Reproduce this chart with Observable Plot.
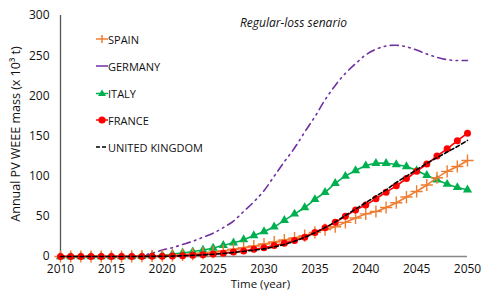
<!DOCTYPE html>
<html><head><meta charset="utf-8">
<script src="https://cdn.jsdelivr.net/npm/d3@7"></script>
<script src="https://cdn.jsdelivr.net/npm/@observablehq/plot@0.6"></script>
<style>
body{margin:0;background:#fff;font-family:"Open Sans",sans-serif;color:#111;}
#wrap{position:relative;width:481px;height:290px;overflow:hidden;}
.ov{position:absolute;white-space:nowrap;font-size:12px;line-height:1;color:#111;}
.leg{position:absolute;left:96px;display:flex;align-items:center;font-size:11px;height:14px;color:#111;}
.leg svg{display:block;}
</style></head><body><div id="wrap"></div>
<script>
const years = [2010,2011,2012,2013,2014,2015,2016,2017,2018,2019,2020,2021,2022,2023,2024,2025,2026,2027,2028,2029,2030,2031,2032,2033,2034,2035,2036,2037,2038,2039,2040,2041,2042,2043,2044,2045,2046,2047,2048,2049,2050];
const spain   = [0,0,0,0,0,0,0,0.2,0.4,0.7, 1,1.5,2,3,4,5.5,7,9,11,13, 15.5,18,20.5,23,26,30,33.5,37,42.5,48, 53,56,61,67,74,81,89,98,106,112,119.5];
const germany = [0,0,0,0,0,0,0,0.5,1.5,4, 8,11,15,19,24,29,36,44,56,68, 82,100,118,135,155,174,195,213,228,240, 251,258,262,263,261,257,252,248,245,244,244];
const italy   = [0,0,0,0,0,0,0,0,0.3,0.8, 1.5,3,4.5,6,8,10.5,14,17,21,26, 31,37,45,53,61,71,80,91,100,107, 113,116,116,114.5,112,107,101,95.5,90,86,83];
const france  = [0,0,0,0,0,0,0,0,0.1,0.2, 0.3,0.6,1,1.5,2.2,3,4,5.5,7,9, 11,13.7,16.6,20,24,30,35.7,42.7,50,58, 64,72,80,88,97,106,115,125,134,144,153.5];
const uk      = [0,0,0,0,0,0,0,0,0.1,0.2, 0.3,0.5,0.9,1.4,2,2.8,3.8,5,6.5,8, 9.5,12,15,19,24,29.5,36,43,51,59, 67,75,83,92,100,108,116,123,130,137,144.5];
const xTicks = [2010,2015,2020,2025,2030,2035,2040,2045,2050];
const yTicks = [0,50,100,150,200,250,300];
const seriesNames = ["SPAIN","GERMANY","ITALY","FRANCE","UNITED KINGDOM"];
const titleText = "Regular-loss senario";
const xLabel = "Time (year)";
const yLabel = "Annual PV WEEE mass (x 10³ t)";

const C = {SPAIN:"#ED7D31", GERMANY:"#7030A0", ITALY:"#00B050", FRANCE:"#FF0000", "UNITED KINGDOM":"#000000"};
const tbl = arr => years.map((y,i)=>({year:y, v:arr[i]}));
const dS=tbl(spain), dG=tbl(germany), dI=tbl(italy), dF=tbl(france), dU=tbl(uk);

const plot = Plot.plot({
  width:481, height:290,
  marginLeft:60, marginRight:14, marginTop:15, marginBottom:34,
  style:{fontFamily:"Open Sans", fontSize:"12px", color:"#111", background:"transparent"},
  x:{domain:[2010,2050], ticks:xTicks, tickFormat:d=>String(d), tickSize:0, tickPadding:8, label:null},
  y:{domain:[0,300], ticks:yTicks, tickSize:0, tickPadding:11, label:null},
  marks:[
    Plot.ruleY([0], {stroke:"#888", strokeWidth:1.5}),
    Plot.ruleX([2010], {stroke:"#555", strokeWidth:1.3}),
    Plot.lineY(dG, {x:"year", y:"v", stroke:C.GERMANY, strokeWidth:1.6, curve:"catmull-rom", strokeDasharray:"8,4.5,1.6,4.5,1.6,4.5"}),
    Plot.lineY(dI, {x:"year", y:"v", stroke:C.ITALY, strokeWidth:1.6, curve:"catmull-rom"}),
    Plot.dot(dI, {x:"year", y:"v", symbol:"triangle", fill:C.ITALY, r:3.4}),
    Plot.lineY(dS, {x:"year", y:"v", stroke:C.SPAIN, strokeWidth:1.6, curve:"catmull-rom"}),
    Plot.dot(dS, {x:"year", y:"v", symbol:"plus", stroke:C.SPAIN, strokeWidth:1.4, r:4}),
    Plot.lineY(dF, {x:"year", y:"v", stroke:C.FRANCE, strokeWidth:1.6, curve:"catmull-rom"}),
    Plot.dot(dF, {x:"year", y:"v", symbol:"circle", fill:C.FRANCE, r:3.5}),
    Plot.lineY(dU, {x:"year", y:"v", stroke:C["UNITED KINGDOM"], strokeWidth:1.6, curve:"catmull-rom", strokeDasharray:"4,2.5"})
  ]
});
const wrap = document.getElementById("wrap");
plot.style.position="absolute"; plot.style.left="0"; plot.style.top="0";
wrap.appendChild(plot);

function ov(text, css){const d=document.createElement("div");d.className="ov";d.textContent=text;Object.assign(d.style,css);wrap.appendChild(d);return d;}
ov(titleText,{left:"240px", top:"17px", fontStyle:"italic", fontSize:"12px"});
ov(xLabel,{left:"0", width:"481px", textAlign:"center", top:"278px", paddingLeft:"40px", boxSizing:"border-box", fontSize:"11.5px"});
ov(yLabel,{left:"16px", top:"134px", transform:"translate(-50%,-50%) rotate(-90deg)", fontSize:"12.5px"});

// legend
const legTops=[32,59,86,113,140];
const markerSvg = {
  SPAIN:`<svg width="12" height="12"><line x1="0" y1="6" x2="12" y2="6" stroke="${C.SPAIN}" stroke-width="1.5"/><line x1="6" y1="2" x2="6" y2="10" stroke="${C.SPAIN}" stroke-width="1.5"/></svg>`,
  GERMANY:`<svg width="12" height="12"><line x1="0" y1="6" x2="12" y2="6" stroke="${C.GERMANY}" stroke-width="1.5"/></svg>`,
  ITALY:`<svg width="12" height="12"><line x1="0" y1="6.5" x2="12" y2="6.5" stroke="${C.ITALY}" stroke-width="1.5"/><path d="M6,2.5 L10,9 L2,9 Z" fill="${C.ITALY}"/></svg>`,
  FRANCE:`<svg width="12" height="12"><line x1="0" y1="6" x2="12" y2="6" stroke="${C.FRANCE}" stroke-width="1.5"/><circle cx="6" cy="6" r="3.6" fill="${C.FRANCE}"/></svg>`,
  "UNITED KINGDOM":`<svg width="12" height="12"><line x1="0" y1="6" x2="12" y2="6" stroke="#000" stroke-width="1.6" stroke-dasharray="4,2"/></svg>`
};
seriesNames.forEach((n,i)=>{
  const d=document.createElement("div");d.className="leg";d.style.top=legTops[i]+"px";
  d.innerHTML=markerSvg[n]+`<span>${n}</span>`;
  wrap.appendChild(d);
});
</script>
</body></html>
